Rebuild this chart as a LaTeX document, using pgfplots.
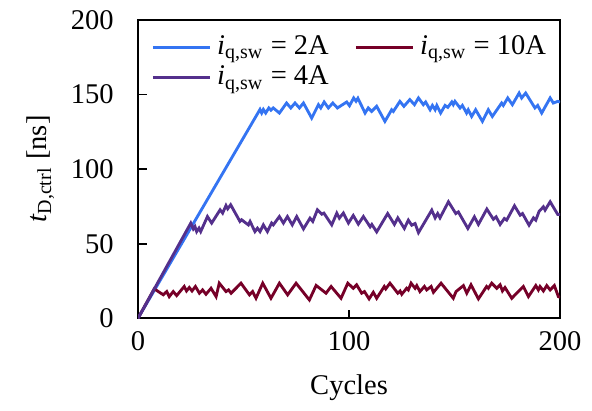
\documentclass[border=0pt]{standalone}
\usepackage{fontspec}
\setmainfont{Liberation Serif}
\usepackage{pgfplots}
\pgfplotsset{compat=1.18}

\definecolor{cblue}{RGB}{52,116,242}
\definecolor{cpurple}{RGB}{84,48,140}
\definecolor{cred}{RGB}{118,0,40}

\newcommand{\iqsw}[1]{\textit{i}\textsubscript{q,sw} = #1}

\begin{document}
\begin{tikzpicture}
\begin{axis}[
  scale only axis,
  width=148pt, height=104.6pt,
  xmin=0, xmax=200, ymin=0, ymax=200,
  xtick={0,100,200},
  ytick={0,50,100,150,200},
  tick align=inside,
  xtick pos=bottom, ytick pos=left,
  major tick length=3pt,
  axis line style={line width=0.8pt},
  every tick/.style={black, line width=0.6pt},
  /pgf/number format/assume math mode=true,
  yticklabel shift=5pt,
  xticklabel shift=1pt,
  xlabel={Cycles},
  xlabel shift=1.8pt,
  ylabel={\textit{t}\textsubscript{D,ctrl} [ns]},
  ylabel shift=-1pt,
  legend columns=2,
  legend cell align=left,
  legend style={at={(rel axis cs:0.024,0.978)}, anchor=north west,
    draw=none, fill=none, inner sep=1pt, row sep=-1.5pt,
    /tikz/every even column/.append style={column sep=7pt}},
  legend image code/.code={\draw[#1] (0pt,0pt) -- (20pt,0pt);},
  every axis plot/.append style={line width=1pt, line join=miter},
]
% 2 A
\addplot[cblue] coordinates {
(0,0) (57.8,140) (58.6,137.6) (59.4,140) (60.5,137.6) (62,141) (63,139.5)
(64.1,141) (67,137.6) (70.4,144.3) (72.4,141) (74.4,144.3) (76.5,141)
(78.4,144.3) (82.3,134.2) (85.5,143.2) (86.6,141) (88.2,145) (90.2,141)
(92.3,144.3) (94.5,141) (98.9,145) (100.2,142.5) (102.2,147.7) (103.3,145.5)
(104.2,147.5) (107.6,137.6) (109.1,141) (110.7,138.7) (113.1,142.1) (117,132)
(120.2,139.8) (121,138.7) (124.1,145.4) (126,142.1) (128.8,146.6) (131,143.2)
(132.9,147.7) (135.2,143.2) (136.3,145) (138.4,139.8) (139.5,142.7) (140.8,139.8)
(141.6,142.7) (143.4,137.6) (145.5,142.7) (146.8,141.4) (148.7,145) (149.4,143.2)
(150.2,145.4) (152.6,141) (153.7,142.7) (155.7,137.6) (156.5,139.8) (158.1,135.3)
(160,139.8) (163.2,132) (166,139.8) (167.9,135.3) (172.3,144.3) (173.1,142.7)
(175.2,147.7) (177.4,143.2) (180.6,151) (181.8,147.7) (183.7,151) (188.1,141)
(189.4,142.7) (191.3,137.6) (195.3,147.7) (196.8,144.3) (198.9,145.4) (200,145)
};
\addlegendentry{\iqsw{2A}}
% 10 A
\addplot[cred] coordinates {
(0,0) (7.7,19.7) (12,15.7) (13.6,17.9) (14.8,14.5) (16.7,17.9) (18.3,15.2)
(21.9,21.3) (23,18.3) (24.3,20.6) (25.6,18.3) (27.2,21.3) (29.1,16.8) (30.6,19)
(32.2,16.1) (34.6,20.1) (37,14.5) (38.5,23.5) (41.7,17.9) (42.9,19) (44.1,16.8)
(48.8,23.5) (52.8,15.7) (54.3,17.9) (55.9,13.4) (59.1,23.5) (63,13.4) (67,23.5)
(70.9,15.7) (74.9,23.5) (81.2,12.3) (84.4,22) (89.1,16.8) (91.5,21.3) (96.2,13.4)
(99.4,23.5) (102,20.1) (103.6,22.4) (106,16.8) (107.3,17.9) (109.5,13) (111.5,17.4)
(113.1,13.4) (116.7,21.3) (117.4,19.7) (119.4,23.5) (123.1,16.8) (124.2,18.3)
(125,16.1) (127.3,20.1) (128.1,19) (129.4,23.5) (131.3,20.1) (132.1,21.9)
(133.6,17.9) (135.7,21.3) (136.8,19) (138.9,21.3) (140,17.4) (143.6,23.5)
(149.4,13.4) (150.7,17.9) (154.2,21.9) (155.8,16.8) (157.8,22.4) (161.3,13)
(165.2,21.3) (166,20.1) (167.6,23.5) (170,20.1) (171.6,22.4) (172.7,18.3)
(173.9,20.6) (177.1,13.4) (182.6,21.3) (185,14.5) (188.5,21.9) (189.7,19)
(190.5,21.3) (192.1,18.3) (193.7,21.9) (195.3,19) (197.3,21.9) (199.2,14.5) (200,14)
};
\addlegendentry{\iqsw{10A}}
% 4 A
\addplot[cpurple] coordinates {
(0,0) (25,63.8) (26.2,59.9) (27,61.5) (27.8,58.1) (28.9,60.4) (29.7,58.1)
(32.9,68.2) (34.9,63.8) (38.9,72.7) (40.1,70.5) (41.7,75.6) (42.5,73.4)
(43.9,76.1) (48.3,64.9) (49.1,66) (52.3,62.6) (53.1,64.9) (55.4,58.1) (56.6,60.4)
(57.8,58.1) (59.4,62.6) (61.3,58.1) (63.3,63.8) (64.1,62.6) (67,68.2) (68.9,63.8)
(70.8,68.2) (73.1,62.6) (75.2,68.2) (78.4,59.9) (81.5,67.1) (82.8,64.9) (85,72.7)
(87.1,69.8) (88.1,70.5) (91.8,62.6) (94.2,70.5) (95.4,67.1) (97.3,70.5) (99.7,63.8)
(102,68.9) (104.4,63.1) (106.8,68.2) (110,61.3) (110.8,62.9) (113.1,57.9)
(118.3,70.2) (121.5,62.9) (123.1,67.3) (126.2,60.2) (128.1,65.8) (129.7,62.4)
(131.3,63.5) (132.9,57.4) (139.2,72.5) (140.8,67.3) (142,70.2) (143.1,67.3)
(147.1,78.1) (150.6,70.2) (151.8,71.3) (156.3,60.2) (159.4,68) (161.3,62.9)
(165.3,73.2) (168.4,66.4) (169.7,68) (171.6,62.9) (173.6,66.9) (174.7,65.8)
(178.4,75.4) (181.1,69.1) (182.2,70.2) (185.3,62.4) (187.4,67.3) (188.5,65.8)
(190.1,71.8) (192.1,74.7) (192.9,72.5) (195.3,78.1) (198.9,69.6) (200,69.6)
};
\addlegendentry{\iqsw{4A}}
\end{axis}
% white margin round the plot
\path ([xshift=-48.4pt,yshift=-29.8pt]current axis.south west)
      ([xshift=11.2pt,yshift=7pt]current axis.north east);
\end{tikzpicture}
\end{document}
